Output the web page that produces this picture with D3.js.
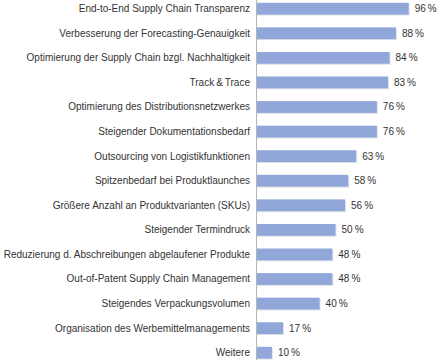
<!DOCTYPE html>
<html>
<head>
<meta charset="utf-8">
<script src="https://cdn.jsdelivr.net/npm/d3@7"></script>
<style>
  body { margin: 0; background: #fff; }
  text { font-family: "Liberation Sans", Arial, Helvetica, sans-serif; fill: #333; }
</style>
</head>
<body>
<div id="chart"></div>
<script>
// ======= DATA =======
const categories = [
  "End-to-End Supply Chain Transparenz",
  "Verbesserung der Forecasting-Genauigkeit",
  "Optimierung der Supply Chain bzgl. Nachhaltigkeit",
  "Track\u2009&\u2009Trace",
  "Optimierung des Distributionsnetzwerkes",
  "Steigender Dokumentationsbedarf",
  "Outsourcing von Logistikfunktionen",
  "Spitzenbedarf bei Produktlaunches",
  "Größere Anzahl an Produktvarianten (SKUs)",
  "Steigender Termindruck",
  "Reduzierung d. Abschreibungen abgelaufener Produkte",
  "Out-of-Patent Supply Chain Management",
  "Steigendes Verpackungsvolumen",
  "Organisation des Werbemittelmanagements",
  "Weitere"
];
const values = [96, 88, 84, 83, 76, 76, 63, 58, 56, 50, 48, 48, 40, 17, 10];

// ======= SETUP =======
const width = 440, height = 362;
const axisX = 256;

const svg = d3.select("#chart").append("svg")
  .attr("width", width)
  .attr("height", height);

const x = d3.scaleLinear().domain([0, 100]).range([axisX, axisX + 159]);
const y = d3.scaleBand()
  .domain(categories)
  .range([-3.6, 365])
  .paddingInner(0.52)
  .paddingOuter(0.26);

const rows = categories.map((c, i) => ({ cat: c, val: values[i] }));

// soft shadow behind bars
svg.selectAll(".shadow")
  .data(rows)
  .enter().append("rect")
  .attr("x", axisX + 1)
  .attr("y", d => y(d.cat) + 1)
  .attr("width", d => x(d.val) - axisX)
  .attr("height", y.bandwidth())
  .attr("fill", "#dfe2e8");

svg.selectAll(".bar")
  .data(rows)
  .enter().append("rect")
  .attr("x", axisX)
  .attr("y", d => y(d.cat))
  .attr("width", d => x(d.val) - axisX)
  .attr("height", y.bandwidth())
  .attr("fill", "#91a7d9");

// vertical axis line
svg.append("line")
  .attr("x1", axisX + 0.5).attr("x2", axisX + 0.5)
  .attr("y1", 0).attr("y2", 360)
  .attr("stroke", "#b5b5b5")
  .attr("stroke-width", 1);

// category labels
svg.selectAll(".cat")
  .data(rows)
  .enter().append("text")
  .attr("x", axisX - 6)
  .attr("y", d => y(d.cat) + y.bandwidth() / 2)
  .attr("dy", "0.35em")
  .attr("text-anchor", "end")
  .style("font-size", "10px")
  .text(d => d.cat);

// value labels
svg.selectAll(".val")
  .data(rows)
  .enter().append("text")
  .attr("x", d => x(d.val) + 6)
  .attr("y", d => y(d.cat) + y.bandwidth() / 2)
  .attr("dy", "0.35em")
  .style("font-size", "10px")
  .text(d => d.val + "\u2009%");
</script>
</body>
</html>
